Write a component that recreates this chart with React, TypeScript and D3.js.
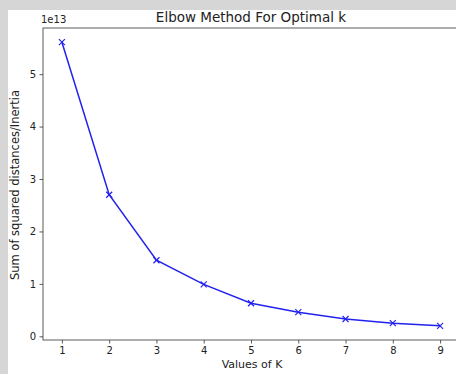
import React, { useEffect, useRef } from 'react';
import * as d3 from 'd3';

const kValues = [1, 2, 3, 4, 5, 6, 7, 8, 9];
const inertia = [5.61, 2.7, 1.45, 0.99, 0.63, 0.46, 0.33, 0.25, 0.2]; // x 1e13
const yTicks = [0, 1, 2, 3, 4, 5];

export default function App() {
  const ref = useRef<SVGSVGElement | null>(null);

  useEffect(() => {
    if (!ref.current) return;
    const width = 456;
    const height = 374;
    const svg = d3.select(ref.current);
    svg.selectAll('*').remove();
    svg.attr('viewBox', `0 0 ${width} ${height}`);

    const font = 'DejaVu Sans, sans-serif';
    const tickSize = 10;

    // page background around the figure
    svg.append('rect').attr('width', width).attr('height', height).attr('fill', '#d6d6d6');
    svg.append('rect').attr('x', 8).attr('y', 10).attr('width', width - 8).attr('height', height - 10).attr('fill', '#fff');

    const left = 43, right = 459, top = 28, bottom = 340;

    const minV = d3.min(inertia)!, maxV = d3.max(inertia)!;
    const pad = (maxV - minV) * 0.05;
    const x = d3.scaleLinear().domain([0.6, 9.4]).range([left, right]);
    const y = d3.scaleLinear().domain([minV - pad, maxV + pad]).range([bottom, top]);

    const axisColor = '#333';

    // x axis
    const xAxis = svg.append('g')
      .attr('transform', `translate(0,${bottom})`)
      .call(d3.axisBottom(x).tickValues(kValues).tickFormat(d3.format('d')).tickSize(3.5).tickPadding(3.5));
    xAxis.select('.domain').remove();
    xAxis.selectAll('line').attr('stroke', axisColor).attr('stroke-width', 0.8);
    xAxis.selectAll('text').attr('font-family', font).attr('font-size', tickSize).attr('fill', '#222');

    // y axis
    const yAxis = svg.append('g')
      .attr('transform', `translate(${left},0)`)
      .call(d3.axisLeft(y).tickValues(yTicks).tickFormat(d3.format('d')).tickSize(3.5).tickPadding(3.5));
    yAxis.select('.domain').remove();
    yAxis.selectAll('line').attr('stroke', axisColor).attr('stroke-width', 0.8);
    yAxis.selectAll('text').attr('font-family', font).attr('font-size', tickSize).attr('fill', '#222');

    // spines
    svg.append('rect')
      .attr('x', left).attr('y', top)
      .attr('width', right - left).attr('height', bottom - top)
      .attr('fill', 'none').attr('stroke', axisColor).attr('stroke-width', 0.8);

    // line
    const line = d3.line<number>()
      .x((_, i) => x(kValues[i]))
      .y(d => y(d));
    svg.append('path')
      .datum(inertia)
      .attr('d', line)
      .attr('fill', 'none')
      .attr('stroke', '#2222ee')
      .attr('stroke-width', 1.5);

    // x markers
    const m = 3;
    const markers = svg.append('g').attr('stroke', '#2222ee').attr('stroke-width', 1.2);
    inertia.forEach((v, i) => {
      const cx = x(kValues[i]), cy = y(v);
      markers.append('line').attr('x1', cx - m).attr('y1', cy - m).attr('x2', cx + m).attr('y2', cy + m);
      markers.append('line').attr('x1', cx - m).attr('y1', cy + m).attr('x2', cx + m).attr('y2', cy - m);
    });

    // offset text
    svg.append('text')
      .attr('x', left - 2).attr('y', 23)
      .attr('font-family', font).attr('font-size', tickSize).attr('fill', '#222')
      .text('1e13');

    // title
    svg.append('text')
      .attr('x', (left + right) / 2).attr('y', 22)
      .attr('text-anchor', 'middle')
      .attr('font-family', font).attr('font-size', 13.5).attr('fill', '#222')
      .text('Elbow Method For Optimal k');

    // axis labels
    svg.append('text')
      .attr('x', 252).attr('y', 368)
      .attr('text-anchor', 'middle')
      .attr('font-family', font).attr('font-size', 11).attr('fill', '#222')
      .text('Values of K');

    svg.append('text')
      .attr('transform', `translate(19,185) rotate(-90)`)
      .attr('text-anchor', 'middle')
      .attr('font-family', font).attr('font-size', 11.5).attr('fill', '#222')
      .text('Sum of squared distances/Inertia');
  }, []);

  return (
    <div style={{ position: 'absolute', left: 0, top: 0, width: 456, height: 374 }}>
      <svg ref={ref} width={456} height={374} style={{ display: 'block' }}></svg>
    </div>
  );
}
